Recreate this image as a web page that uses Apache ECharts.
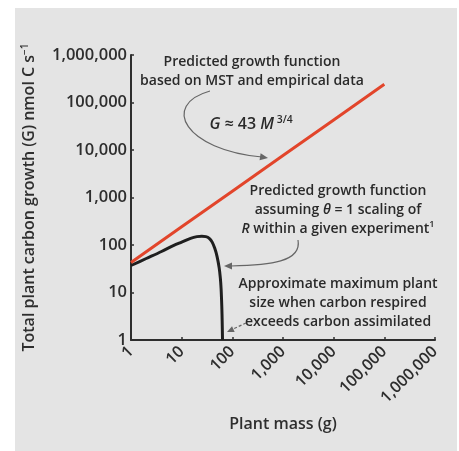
<!DOCTYPE html>
<html>
<head>
<meta charset="utf-8">
<script src="https://cdn.jsdelivr.net/npm/echarts@6/dist/echarts.min.js"></script>
<style>
  html, body { margin: 0; padding: 0; background: #ffffff; }
  #chart { width: 459px; height: 451px; }
</style>
</head>
<body>
<div id="chart"></div>
<script>
// Plant mass (g) on a log axis, one tick per decade
const xTickLabels = ['1', '10', '100', '1,000', '10,000', '100,000', '1,000,000'];
const yTickLabels = ['1', '10', '100', '1,000', '10,000', '100,000', '1,000,000'];

// MST prediction G ≈ 43 M^3/4 (straight on log-log axes)
const mstMass   = [1, 10, 100, 1000, 10000, 100000];
const mstGrowth = [43, 242, 1360, 7650, 43000, 241800];

// Growth when respiration scales with theta = 1 inside an experiment
const thetaMass   = [1, 2, 4, 7, 10, 15, 20, 25, 30, 35, 40, 45, 50, 55, 58, 60, 62, 63, 64];
const thetaGrowth = [37, 52, 73, 98, 115, 138, 150, 153, 150, 138, 115, 85, 57, 33, 20, 12, 5, 2.5, 1];

const FONT = '"Open Sans", "Noto Sans", sans-serif';
const INK = '#2e2e2e';
const NOTE = '#2a2a2a';

const pair = (xs, ys) => xs.map((x, i) => [x, ys[i]]);
const decade = v => Math.round(Math.log10(v));

const chart = echarts.init(document.getElementById('chart'), null, { renderer: 'canvas' });

function noteStyle(size) {
  return {
    fontFamily: FONT, fontSize: size, fontWeight: 600, fill: NOTE, align: 'center', lineHeight: 19,
    rich: {
      i: { fontFamily: FONT, fontSize: size, fontWeight: 600, fontStyle: 'italic', fill: NOTE },
      sup: { fontFamily: FONT, fontSize: size * 0.65, fontWeight: 600, fill: NOTE, verticalAlign: 'top', padding: [0, 0, 7, 0] }
    }
  };
}

function note(x, y, text, size) {
  return { type: 'text', x: x, y: y, z: 50, style: Object.assign({ text: text }, noteStyle(size || 14)) };
}

function arrowHead(tip, from, color, size) {
  const dx = tip[0] - from[0], dy = tip[1] - from[1];
  const len = Math.hypot(dx, dy) || 1;
  const ux = dx / len, uy = dy / len;
  const bx = tip[0] - ux * size, by = tip[1] - uy * size;
  const px = -uy * size * 0.45, py = ux * size * 0.45;
  return {
    type: 'polygon', z: 50,
    shape: { points: [tip, [bx + px, by + py], [bx - px, by - py]] },
    style: { fill: color }
  };
}

const arrowColor = '#666666';

chart.setOption({
  animation: false,
  backgroundColor: 'transparent',
  grid: { left: 131, right: 24, top: 55, bottom: 111, containLabel: false },
  xAxis: {
    type: 'log', logBase: 10, min: 1, max: 1000000, splitNumber: 6,
    name: 'Plant mass (g)', nameLocation: 'middle', nameGap: 76,
    nameTextStyle: { fontFamily: FONT, fontSize: 16, fontWeight: 600, color: INK },
    axisLine: { lineStyle: { color: INK, width: 2 } },
    axisTick: { inside: true, length: 3, lineStyle: { color: INK, width: 1.5 } },
    minorTick: { show: false },
    splitLine: { show: false },
    axisLabel: {
      rotate: 45, margin: 9, fontFamily: FONT, fontSize: 16, fontWeight: 600, color: INK,
      formatter: v => xTickLabels[decade(v)]
    }
  },
  yAxis: {
    type: 'log', logBase: 10, min: 1, max: 1000000, splitNumber: 6,
    name: '{t|Total plant carbon growth (G) nmol C s}{s|−1}',
    nameLocation: 'middle', nameGap: 93, nameRotate: 90,
    nameTextStyle: {
      fontFamily: FONT, fontSize: 16, fontWeight: 600, color: INK,
      rich: {
        t: { fontFamily: FONT, fontSize: 16, fontWeight: 600, color: INK },
        s: { fontFamily: FONT, fontSize: 10, fontWeight: 600, color: INK, verticalAlign: 'top', padding: [0, 0, 8, 0] }
      }
    },
    axisLine: { lineStyle: { color: INK, width: 2 } },
    axisTick: { inside: true, length: 3, lineStyle: { color: INK, width: 1.5 } },
    splitLine: { show: false },
    axisLabel: {
      margin: 4, fontFamily: FONT, fontSize: 16.5, fontWeight: 600, color: INK,
      formatter: v => yTickLabels[decade(v)]
    }
  },
  series: [
    {
      name: 'MST', type: 'line', data: pair(mstMass, mstGrowth),
      showSymbol: false, z: 4,
      lineStyle: { color: '#e2452b', width: 3 }
    },
    {
      name: 'theta1', type: 'line', data: pair(thetaMass, thetaGrowth),
      showSymbol: false, smooth: 0.3, z: 3,
      lineStyle: { color: '#1f1f1f', width: 3 }
    }
  ],
  graphic: [
    { type: 'rect', z: -100, shape: { x: 15, y: 8, width: 442, height: 443 }, style: { fill: '#e4e4e4' } },

    note(252, 53, 'Predicted growth function\nbased on MST and empirical data'),
    note(251, 115, '{i|G} ≈ 43 {i|M}{sup| 3/4}', 16),
    {
      type: 'bezierCurve', z: 50,
      shape: { x1: 210, y1: 91, cpx1: 160, cpy1: 105, cpx2: 185, cpy2: 150, x2: 262, y2: 157 },
      style: { stroke: arrowColor, lineWidth: 1.2, fill: null }
    },
    arrowHead([268, 158], [255, 156], arrowColor, 8),

    note(338, 182, 'Predicted growth function\nassuming {i|θ} = 1 scaling of\n{i|R} within a given experiment{sup|1}'),
    {
      type: 'bezierCurve', z: 50,
      shape: { x1: 298, y1: 240, cpx1: 302, cpy1: 262, cpx2: 270, cpy2: 265, x2: 231, y2: 266 },
      style: { stroke: arrowColor, lineWidth: 1.2, fill: null }
    },
    arrowHead([224, 266], [236, 266], arrowColor, 8),

    note(338, 275, 'Approximate maximum plant\nsize when carbon respired\nexceeds carbon assimilated'),
    {
      type: 'line', z: 50,
      shape: { x1: 246, y1: 323, x2: 233, y2: 329 },
      style: { stroke: arrowColor, lineWidth: 1.2, lineDash: [3, 2] }
    },
    arrowHead([227, 332], [240, 326], arrowColor, 7)
  ]
});
</script>
</body>
</html>
